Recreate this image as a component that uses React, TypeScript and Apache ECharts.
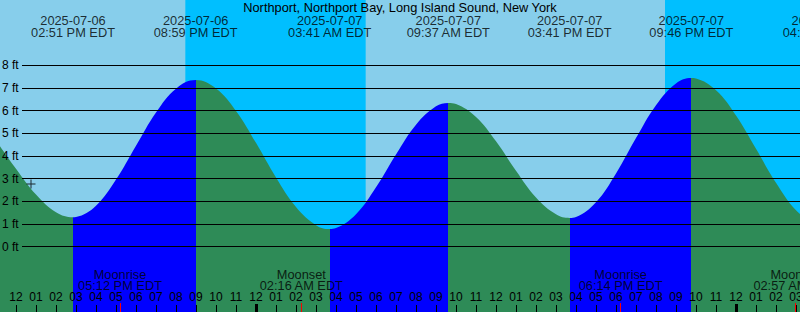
import React, { useEffect, useRef } from "react";
import * as echarts from "echarts";

// ---------------- data ----------------
const TITLE = "Northport, Northport Bay, Long Island Sound, New York";
const YEAR = "2025";
const TZ = "EDT";

// high / low tide extremes ("MM-DD HH:MM" local time)
const EXTREME_TIMES = [
  "07-06 14:51",
  "07-06 20:59",
  "07-07 03:41",
  "07-07 09:37",
  "07-07 15:41",
  "07-07 21:46",
  "07-08 04:25",
];
const EXTREME_FT = [1.3, 7.35, 0.78, 6.34, 1.27, 7.44, 0.9];
const EXTREME_KIND = ["low", "high", "low", "high", "low", "high", "low"];

// tide height, hours counted from 2025-07-06 00:00
const TIDE_HOURS = [
  11, 12, 13, 14, 15, 16, 17, 18, 19, 20, 22, 23, 24, 25, 26, 27, 28, 29, 30,
  31, 32, 33, 34, 35, 36, 37, 38, 39, 40, 41, 42, 43, 44, 45, 46, 47, 48, 49,
  50, 51, 52,
];
const TIDE_FT = [
  4.69, 3.44, 2.3, 1.52, 1.31, 1.81, 2.96, 4.45, 5.92, 6.97, 6.98, 5.99, 4.58,
  3.05, 1.75, 0.95, 0.82, 1.43, 2.62, 4.07, 5.38, 6.19, 6.29, 5.72, 4.65, 3.35,
  2.17, 1.43, 1.31, 1.96, 3.23, 4.79, 6.24, 7.2, 7.42, 6.9, 5.79, 4.32, 2.82,
  1.61, 0.97,
];

// night (sunset -> sunrise)
const NIGHT_STARTS = ["07-06 20:28", "07-07 20:27"];
const NIGHT_ENDS = ["07-07 05:29", "07-08 05:30"];

// moon events
const MOON_EVENTS = ["Moonrise", "Moonset", "Moonrise", "Moonset"];
const MOON_TIMES = ["07-06 17:12", "07-07 02:16", "07-07 18:14", "07-08 02:57"];

// current time marker
const NOW_TIME = "07-06 12:45";
const NOW_FT = 2.77;

// axis ticks
const HOUR_TICKS = [
  12, 13, 14, 15, 16, 17, 18, 19, 20, 21, 22, 23, 24, 25, 26, 27, 28, 29, 30,
  31, 32, 33, 34, 35, 36, 37, 38, 39, 40, 41, 42, 43, 44, 45, 46, 47, 48, 49,
  50, 51,
];
const MIDNIGHT_TICKS = [24, 48];
const FT_MIN = 0;
const FT_MAX = 8;

// ---------------- style / layout ----------------
const W = 800;
const H = 312;
const X_MIN = 11.2;
const X_MAX = 51.2;
const Y_MIN = -2.88;
const Y_MAX = 10.88;
const TOP_LABEL_Y = 9.73;
const MOON_LABEL_Y = -1.47;
const DAY = "#87CEEB";
const NIGHT = "#00BFFF";
const FALL = "#2E8B57";
const RISE = "#0000FF";
const FONT = "'Liberation Sans', Arial, sans-serif";
const BIG = 12.8;

const toHours = (s: string) => {
  const day = parseInt(s.slice(3, 5), 10);
  const hh = parseInt(s.slice(6, 8), 10);
  const mm = parseInt(s.slice(9, 11), 10);
  return (day - 6) * 24 + hh + mm / 60;
};
const pad = (n: number) => (n < 10 ? "0" + n : "" + n);
const fmtDate = (s: string) => `${YEAR}-${s.slice(0, 5)}`;
const fmtTime = (s: string) => {
  const hh = parseInt(s.slice(6, 8), 10);
  const mm = s.slice(9, 11);
  const ap = hh >= 12 ? "PM" : "AM";
  const h12 = hh % 12 || 12;
  return `${pad(h12)}:${mm} ${ap} ${TZ}`;
};

export default function App() {
  const ref = useRef<HTMLDivElement>(null);

  useEffect(() => {
    if (!ref.current) return;
    const chart = echarts.init(ref.current, undefined, { renderer: "svg" });

    const extremeHours = EXTREME_TIMES.map(toHours);
    const tidePoints = [
      ...TIDE_HOURS.map((h, i) => [h, TIDE_FT[i]]),
      ...extremeHours.map((h, i) => [h, EXTREME_FT[i]]),
    ].sort((a, b) => a[0] - b[0]);

    const pieces: any[] = [];
    pieces.push({ lt: extremeHours[0], color: EXTREME_KIND[0] === "low" ? FALL : RISE });
    extremeHours.forEach((h, i) => {
      const color = EXTREME_KIND[i] === "low" ? RISE : FALL;
      if (i < extremeHours.length - 1) pieces.push({ gte: h, lt: extremeHours[i + 1], color });
      else pieces.push({ gte: h, color });
    });

    const hourFmt = (v: number) => pad(Math.round(v) % 12 || 12);

    const baseX = {
      type: "value",
      gridIndex: 0,
      min: X_MIN,
      max: X_MAX,
      position: "bottom",
      z: 8,
      axisLine: { show: false, onZero: false },
      splitLine: { show: false },
    };

    const option: any = {
      animation: false,
      backgroundColor: DAY,
      textStyle: { fontFamily: FONT },
      title: {
        text: TITLE,
        left: "center",
        top: 0,
        padding: [1, 0, 0, 0],
        textStyle: { fontSize: BIG, fontWeight: "normal", color: "#000", fontFamily: FONT },
      },
      grid: [
        { left: 0, right: 0, top: 0, bottom: 0, containLabel: false, outerBoundsMode: "none" },
        { left: 22, right: 0, top: 65.3, bottom: 65.3, containLabel: false, outerBoundsMode: "none" },
      ],
      xAxis: [
        {
          ...baseX,
          axisTick: {
            show: true,
            inside: true,
            length: 7,
            customValues: HOUR_TICKS,
            lineStyle: { color: "#000", width: 1 },
          },
          axisLabel: {
            show: true,
            inside: true,
            margin: 9,
            customValues: HOUR_TICKS,
            formatter: hourFmt,
            fontSize: 12,
            color: "#000",
            fontFamily: FONT,
            hideOverlap: false,
          },
        },
        {
          ...baseX,
          axisLabel: { show: false },
          axisTick: {
            show: true,
            inside: true,
            length: 8,
            customValues: MIDNIGHT_TICKS,
            lineStyle: { color: "#000", width: 3 },
          },
        },
        {
          ...baseX,
          axisLabel: { show: false },
          axisTick: {
            show: true,
            inside: true,
            length: 9,
            customValues: MOON_TIMES.map(toHours),
            lineStyle: { color: "#FF0000", width: 1 },
          },
        },
        {
          type: "value",
          gridIndex: 1,
          min: 0,
          max: 1,
          show: false,
          axisLine: { show: false, onZero: false },
          axisTick: { show: false },
          axisLabel: { show: false },
          splitLine: { show: false },
        },
      ],
      yAxis: [
        { type: "value", gridIndex: 0, min: Y_MIN, max: Y_MAX, show: false, axisLine: { onZero: false } },
        {
          type: "value",
          gridIndex: 1,
          min: FT_MIN,
          max: FT_MAX,
          interval: 1,
          z: 5,
          axisLine: { show: false, onZero: false },
          axisTick: { show: false },
          splitLine: { show: true, lineStyle: { color: "#000", width: 1 } },
          axisLabel: {
            formatter: "{value} ft",
            align: "left",
            margin: 20,
            fontSize: 12,
            color: "#000",
            fontFamily: FONT,
          },
        },
      ],
      visualMap: {
        type: "piecewise",
        show: false,
        dimension: 0,
        seriesIndex: 1,
        pieces,
      },
      series: [
        {
          type: "line",
          name: "night",
          xAxisIndex: 0,
          yAxisIndex: 0,
          data: [],
          z: 1,
          silent: true,
          markArea: {
            silent: true,
            itemStyle: { color: NIGHT, opacity: 1 },
            data: NIGHT_STARTS.map((s, i) => [
              { xAxis: Math.max(toHours(s), X_MIN) },
              { xAxis: Math.min(toHours(NIGHT_ENDS[i]), X_MAX) },
            ]),
          },
        },
        {
          type: "line",
          name: "tide",
          xAxisIndex: 0,
          yAxisIndex: 0,
          data: tidePoints,
          smooth: 0.4,
          showSymbol: false,
          symbol: "none",
          lineStyle: { width: 0 },
          areaStyle: { opacity: 1, origin: "start" },
          z: 2,
          silent: true,
        },
        {
          type: "scatter",
          name: "extremes",
          xAxisIndex: 0,
          yAxisIndex: 0,
          clip: false,
          symbolSize: 0,
          z: 9,
          data: extremeHours.map((h) => [h, TOP_LABEL_Y]),
          label: {
            show: true,
            position: "inside",
            lineHeight: 12,
            fontSize: BIG,
            color: "#000",
            fontFamily: FONT,
            formatter: (p: any) =>
              `${fmtDate(EXTREME_TIMES[p.dataIndex])}\n${fmtTime(EXTREME_TIMES[p.dataIndex])}`,
          },
        },
        {
          type: "scatter",
          name: "moon",
          xAxisIndex: 0,
          yAxisIndex: 0,
          clip: false,
          symbolSize: 0,
          z: 9,
          data: MOON_TIMES.map((s) => [toHours(s), MOON_LABEL_Y]),
          label: {
            show: true,
            position: "inside",
            lineHeight: 11.5,
            fontSize: BIG,
            color: "#000",
            fontFamily: FONT,
            formatter: (p: any) => `${MOON_EVENTS[p.dataIndex]}\n${fmtTime(MOON_TIMES[p.dataIndex])}`,
          },
        },
        {
          type: "scatter",
          name: "now",
          xAxisIndex: 0,
          yAxisIndex: 0,
          z: 9,
          symbol: "path://M0,4h9v1h-9z M4,0h1v9h-1z",
          symbolSize: 9,
          itemStyle: { color: "#000" },
          data: [[toHours(NOW_TIME), NOW_FT]],
        },
      ],
    };

    chart.setOption(option);
    return () => chart.dispose();
  }, []);

  return <div ref={ref} style={{ width: W, height: H, position: "absolute", left: 0, top: 0 }} />;
}
